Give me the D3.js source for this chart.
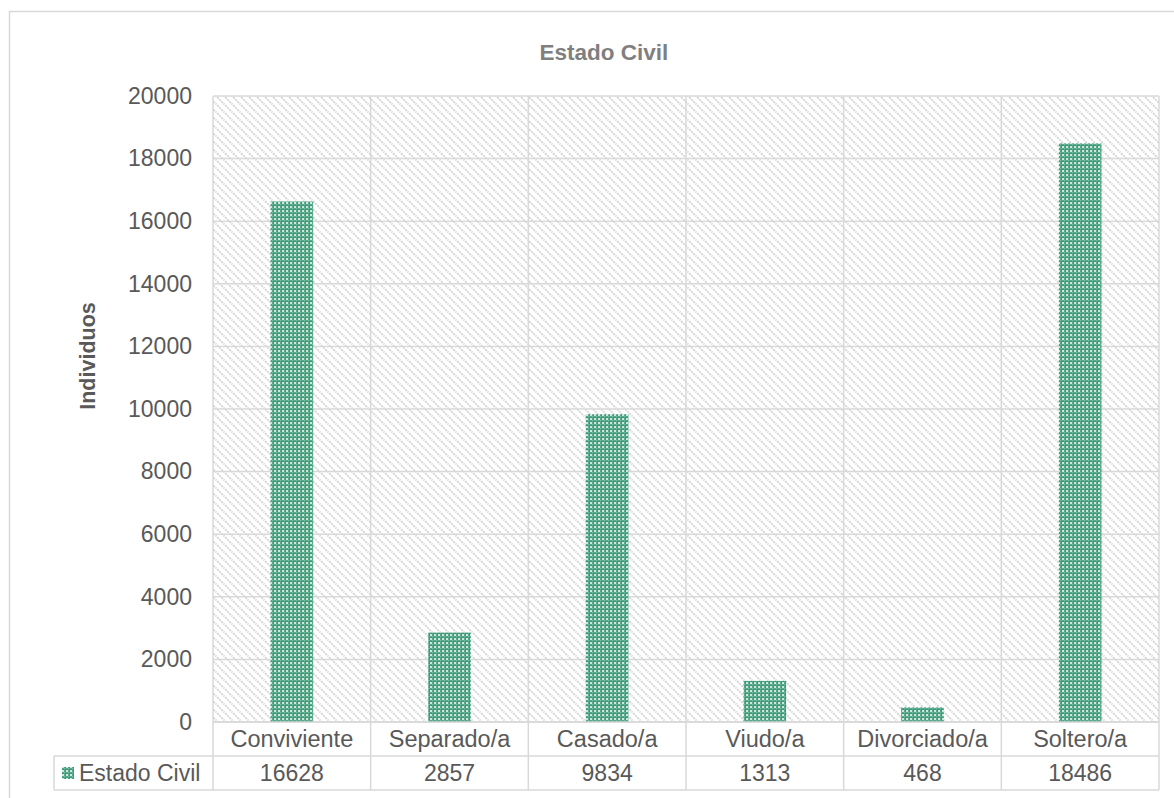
<!DOCTYPE html>
<html>
<head>
<meta charset="utf-8">
<script src="https://cdn.jsdelivr.net/npm/d3@7"></script>
<style>
  html, body { margin: 0; padding: 0; background: #fff; }
  svg { display: block; font-family: "Liberation Sans", Arial, sans-serif; }
</style>
</head>
<body>
<svg id="chart" width="1174" height="798"></svg>
<script>
// Estado civil: número de individuos por categoría
const categories = ["Conviviente", "Separado/a", "Casado/a", "Viudo/a", "Divorciado/a", "Soltero/a"];
const values = [16628, 2857, 9834, 1313, 468, 18486];
const seriesName = "Estado Civil";
const yTickValues = [0, 2000, 4000, 6000, 8000, 10000, 12000, 14000, 16000, 18000, 20000];
const chartTitle = "Estado Civil";
const yAxisTitle = "Individuos";

const svg = d3.select("#chart");
const grid = "#d9d9d9";
const textCol = "#595959";
const labelSize = 23;

const plot = { left: 213, right: 1159, top: 96, bottom: 722 };
const rowH = 34;
const tableLeft = 54;

const x = d3.scaleBand().domain(categories).range([plot.left, plot.right]);
const y = d3.scaleLinear().domain([0, 20000]).range([plot.bottom, plot.top]);
const barW = x.bandwidth() / 3.7; // gap width 270%

// patterns
const defs = svg.append("defs");
const hatch = defs.append("pattern")
  .attr("id", "hatch").attr("patternUnits", "userSpaceOnUse")
  .attr("width", 8).attr("height", 8);
hatch.append("rect").attr("width", 8).attr("height", 8).attr("fill", "#fff");
hatch.append("path")
  .attr("d", "M-1,-1 L9,9 M-1,7 L1,9 M7,-1 L9,1")
  .attr("stroke", "#d2d2d2").attr("stroke-width", 1.7)
  .attr("stroke-dasharray", "2,1");

const dots = defs.append("pattern")
  .attr("id", "dots").attr("patternUnits", "userSpaceOnUse")
  .attr("width", 4).attr("height", 4);
dots.append("rect").attr("width", 4).attr("height", 4).attr("fill", "#3a9a78");
dots.append("rect").attr("x", 0).attr("y", 0).attr("width", 4).attr("height", 1)
  .attr("fill", "#fff").attr("opacity", 0.15);
dots.append("rect").attr("x", 0).attr("y", 0).attr("width", 1).attr("height", 4)
  .attr("fill", "#fff").attr("opacity", 0.15);
dots.append("rect").attr("x", 2).attr("y", 2).attr("width", 2).attr("height", 2)
  .attr("fill", "#fff").attr("opacity", 0.75);

// outer chart frame
svg.append("rect")
  .attr("x", 9.5).attr("y", 11.5).attr("width", 1300).attr("height", 900)
  .attr("fill", "#fff").attr("stroke", grid).attr("stroke-width", 1.5);

// title
svg.append("text")
  .attr("x", 604).attr("y", 60)
  .attr("text-anchor", "middle")
  .attr("font-size", 22.5).attr("font-weight", "bold").attr("fill", "#7f7f7f")
  .text(chartTitle);

// plot background
svg.append("rect")
  .attr("x", plot.left).attr("y", plot.top)
  .attr("width", plot.right - plot.left).attr("height", plot.bottom - plot.top)
  .attr("fill", "url(#hatch)");

// horizontal gridlines
svg.append("g").selectAll("line").data(yTickValues).join("line")
  .attr("x1", plot.left).attr("x2", plot.right)
  .attr("y1", d => y(d)).attr("y2", d => y(d))
  .attr("stroke", grid).attr("stroke-width", 1.5);

// vertical dividers through plot and table
const dividers = categories.map(c => x(c)).concat([plot.right]);
svg.append("g").selectAll("line").data(dividers).join("line")
  .attr("x1", d => d).attr("x2", d => d)
  .attr("y1", plot.top).attr("y2", plot.bottom + 2 * rowH)
  .attr("stroke", grid).attr("stroke-width", 1.5);

// bars
svg.append("g").selectAll("rect").data(values).join("rect")
  .attr("x", (d, i) => x(categories[i]) + (x.bandwidth() - barW) / 2)
  .attr("width", barW)
  .attr("y", d => y(d))
  .attr("height", d => y(0) - y(d))
  .attr("fill", "url(#dots)");

// y axis labels
const yAxis = d3.axisLeft(y).tickValues(yTickValues).tickSize(0).tickPadding(21)
  .tickFormat(d3.format("d"));
const gy = svg.append("g").attr("transform", `translate(${plot.left},0)`).call(yAxis);
gy.select(".domain").remove();
gy.selectAll("text")
  .attr("font-size", labelSize).attr("fill", textCol)
  .attr("font-family", "'Liberation Sans', Arial, sans-serif");

// y axis title
svg.append("text")
  .attr("transform", "translate(95,356) rotate(-90)")
  .attr("text-anchor", "middle")
  .attr("font-size", 21.5).attr("font-weight", "bold").attr("fill", textCol)
  .text(yAxisTitle);

// data table: rows
const tableBottom = plot.bottom + 2 * rowH;
svg.append("line")
  .attr("x1", plot.left).attr("x2", plot.right)
  .attr("y1", plot.bottom).attr("y2", plot.bottom)
  .attr("stroke", grid).attr("stroke-width", 1.5);
svg.append("line")
  .attr("x1", tableLeft).attr("x2", plot.right)
  .attr("y1", plot.bottom + rowH).attr("y2", plot.bottom + rowH)
  .attr("stroke", grid).attr("stroke-width", 1.5);
svg.append("line")
  .attr("x1", tableLeft).attr("x2", plot.right)
  .attr("y1", tableBottom).attr("y2", tableBottom)
  .attr("stroke", grid).attr("stroke-width", 1.5);
svg.append("line")
  .attr("x1", tableLeft).attr("x2", tableLeft)
  .attr("y1", plot.bottom + rowH).attr("y2", tableBottom)
  .attr("stroke", grid).attr("stroke-width", 1.5);

// category labels
svg.append("g").selectAll("text").data(categories).join("text")
  .attr("x", d => x(d) + x.bandwidth() / 2)
  .attr("y", plot.bottom + rowH / 2)
  .attr("dy", "0.36em")
  .attr("text-anchor", "middle")
  .attr("font-size", 23.5).attr("fill", textCol)
  .text(d => d);

// value row
svg.append("g").selectAll("text").data(values).join("text")
  .attr("x", (d, i) => x(categories[i]) + x.bandwidth() / 2)
  .attr("y", plot.bottom + rowH * 1.5)
  .attr("dy", "0.36em")
  .attr("text-anchor", "middle")
  .attr("font-size", labelSize).attr("fill", textCol)
  .text(d => d);

// legend key + series name
svg.append("rect")
  .attr("x", 62).attr("y", plot.bottom + rowH * 1.5 - 6)
  .attr("width", 12).attr("height", 12)
  .attr("fill", "url(#dots)");
svg.append("text")
  .attr("x", 79).attr("y", plot.bottom + rowH * 1.5)
  .attr("dy", "0.36em")
  .attr("font-size", labelSize).attr("fill", textCol)
  .text(seriesName);
</script>
</body>
</html>
